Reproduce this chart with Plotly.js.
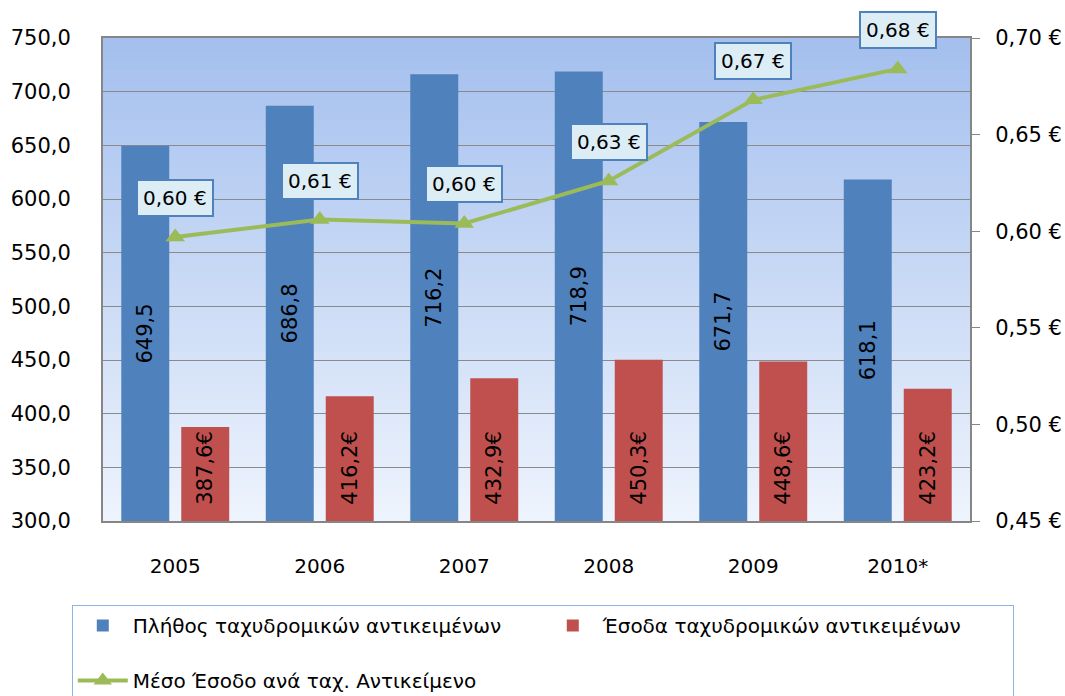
<!DOCTYPE html>
<html>
<head>
<meta charset="utf-8">
<script src="https://cdn.plot.ly/plotly-3.0.1.min.js"></script>
<style>html,body{margin:0;padding:0;background:#fff;}#chart{width:1065px;height:696px;}</style>
</head>
<body>
<div id="chart"></div>
<script>
const years = ['2005', '2006', '2007', '2008', '2009', '2010*'];
const itemCounts = [649.5, 686.8, 716.2, 718.9, 671.7, 618.1];
const itemRevenue = [387.6, 416.2, 432.9, 450.3, 448.6, 423.2];
const avgRevenue = [0.597, 0.606, 0.604, 0.626, 0.668, 0.684];
const seriesNames = ['Πλήθος ταχυδρομικών αντικειμένων', 'Έσοδα ταχυδρομικών αντικειμένων', 'Μέσο Έσοδο ανά ταχ. Αντικείμενο'];

const FONT = 'DejaVu Sans, Liberation Sans, sans-serif';
const AXIS_MIN = 300;   // left axis starts here; bars are drawn from this base
const fmt = (v, d) => v.toFixed(d).replace('.', ',');

const traces = [
  {
    type: 'bar', name: seriesNames[0] + '<br> ', x: years,
    base: AXIS_MIN, y: itemCounts.map(v => v - AXIS_MIN),
    marker: {color: '#4f81bd'},
    text: itemCounts.map(v => fmt(v, 1)), textposition: 'inside', insidetextanchor: 'middle',
    textangle: -90, constraintext: 'none',
    textfont: {family: FONT, size: 21, color: '#000'}, hoverinfo: 'skip'
  },
  {
    type: 'bar', name: seriesNames[1] + '<br> ', x: years,
    base: AXIS_MIN, y: itemRevenue.map(v => v - AXIS_MIN),
    marker: {color: '#c0504d'},
    text: itemRevenue.map(v => '\u00a0\u00a0' + fmt(v, 1) + '€'), textposition: 'inside', insidetextanchor: 'start',
    textangle: -90, constraintext: 'none',
    textfont: {family: FONT, size: 21, color: '#000'}, hoverinfo: 'skip'
  },
  {
    type: 'scatter', mode: 'lines+markers', name: seriesNames[2] + '<br> ', x: years, y: avgRevenue, yaxis: 'y2',
    line: {color: '#9bbb59', width: 4},
    marker: {symbol: 'triangle-up', size: 17, color: '#9bbb59'},
    cliponaxis: false, hoverinfo: 'skip'
  }
];

// vertical gradient for plot background (style only)
const bgShapes = [];
const NSTEP = 60;
const gradTop = [164, 191, 238], gradBot = [238, 244, 253];
for (let i = 0; i < NSTEP; i++) {
  const t = (i + 0.5) / NSTEP;
  const c = gradBot.map((b, k) => Math.round(b + (gradTop[k] - b) * t));
  bgShapes.push({type: 'rect', xref: 'paper', yref: 'paper', x0: 0, x1: 1, y0: i / NSTEP, y1: Math.min(1, (i + 1) / NSTEP + 0.002),
    fillcolor: `rgb(${c[0]},${c[1]},${c[2]})`, line: {width: 0}, layer: 'below'});
}

const labelNotes = years.map((yr, i) => ({
  x: i, y: avgRevenue[i], xref: 'x', yref: 'y2',
  text: fmt(avgRevenue[i], 2) + ' €', showarrow: false, yshift: 39,
  font: {family: FONT, size: 20, color: '#000'},
  bgcolor: '#dcedf6', bordercolor: '#4f81bd', borderwidth: 2, borderpad: 5
}));

const layout = {
  width: 1065, height: 696,
  margin: {l: 103, r: 95, t: 38, b: 175, autoexpand: false},
  paper_bgcolor: '#ffffff', plot_bgcolor: 'rgba(0,0,0,0)',
  font: {family: FONT, size: 20, color: '#000'},
  separators: ',.',
  barmode: 'group', bargap: 0.17, bargroupgap: 0.2,
  showlegend: true,
  legend: {
    orientation: 'h', x: -0.036, xanchor: 'left', y: -0.174, yanchor: 'top',
    bgcolor: '#ffffff', bordercolor: '#8db3e2', borderwidth: 1,
    font: {family: FONT, size: 20, color: '#000'}, entrywidth: 405, entrywidthmode: 'pixels',
    itemwidth: 50, traceorder: 'normal', valign: 'top'
  },
  xaxis: {
    type: 'category', range: [-0.5, 5.5], showgrid: false, showline: true, linecolor: '#868686', linewidth: 2,
    mirror: true, ticks: '', ticklabelstandoff: 26,
    tickfont: {family: FONT, size: 20, color: '#000'}, fixedrange: true
  },
  yaxis: {
    range: [300, 750], dtick: 50, tick0: 300, tickformat: '.1f',
    showgrid: true, gridcolor: '#8a8a8a', gridwidth: 1,
    showline: true, linecolor: '#868686', linewidth: 2, ticks: '', ticklabelstandoff: 26,
    zeroline: false, tickfont: {family: FONT, size: 21, color: '#000'}, fixedrange: true
  },
  yaxis2: {
    overlaying: 'y', side: 'right', range: [0.45, 0.70], dtick: 0.05, tick0: 0.45,
    tickformat: '.2f', ticksuffix: ' €', showgrid: false,
    showline: true, linecolor: '#868686', linewidth: 2, ticks: 'outside', ticklen: 8, tickcolor: '#868686',
    ticklabelstandoff: 11, zeroline: false,
    tickfont: {family: FONT, size: 21, color: '#000'}, fixedrange: true
  },
  shapes: bgShapes,
  annotations: labelNotes
};

Plotly.newPlot('chart', traces, layout, {displayModeBar: false, staticPlot: true});
</script>
</body>
</html>
